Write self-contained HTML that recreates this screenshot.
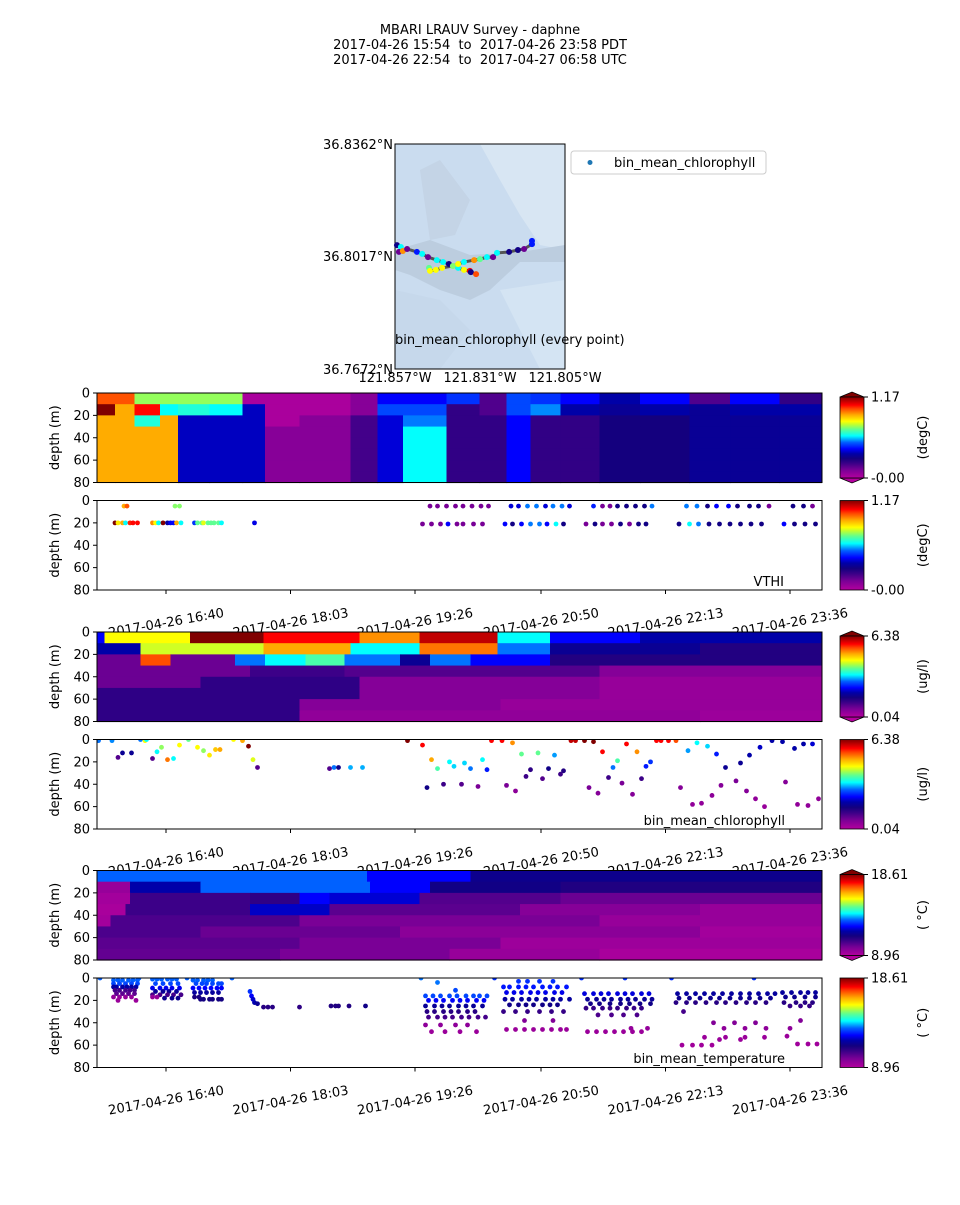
<!DOCTYPE html>
<html><head><meta charset="utf-8"><style>
html,body{margin:0;padding:0;background:#fff;}
svg text{font-family:"DejaVu Sans","Liberation Sans",sans-serif;}
.pre{white-space:pre;}
</style></head><body>
<svg id="fig" width="960" height="1200" viewBox="0 0 960 1200" xmlns="http://www.w3.org/2000/svg">
<rect x="0" y="0" width="960" height="1200" fill="#fff"/>
<g font-size="13" text-anchor="middle" fill="#000">
<text x="480" y="34" class="pre">MBARI LRAUV Survey - daphne</text>
<text x="480" y="49" class="pre">2017-04-26 15:54  to  2017-04-26 23:58 PDT</text>
<text x="480" y="64" class="pre">2017-04-26 22:54  to  2017-04-27 06:58 UTC</text>
</g>
<defs>
<clipPath id="mapclip"><rect x="395" y="144" width="170" height="225"/></clipPath>
</defs>
<g id="map">
<g clip-path="url(#mapclip)">
<rect x="395" y="144" width="170" height="225" fill="#cadcef"/>
<polygon points="480,144 565,144 565,250 540,245 520,215 500,180" fill="#d8e6f3"/>
<polygon points="500,290 565,280 565,369 540,369 520,330" fill="#d4e4f3"/>
<polygon points="395,250 430,240 470,255 520,252 565,245 565,262 520,262 490,290 470,300 440,290 410,275 395,270" fill="#bccddf"/>
<polygon points="420,170 440,160 470,200 455,235 430,240" fill="#bfcfe0" opacity="0.6"/>
<polygon points="395,290 440,300 470,330 440,369 395,369" fill="#c6d8eb"/>
</g>
<rect x="395" y="144" width="170" height="225" fill="none" stroke="#000" stroke-width="1"/>
<g id="mapTrack"></g>
<text x="395" y="344" font-size="13">bin_mean_chlorophyll (every point)</text>
<g font-size="13" text-anchor="end">
<text x="393" y="149">36.8362°N</text>
<text x="393" y="261">36.8017°N</text>
<text x="393" y="374">36.7672°N</text>
</g>
<g font-size="13" text-anchor="middle">
<text x="395" y="382">121.857°W</text>
<text x="480" y="382">121.831°W</text>
<text x="565" y="382">121.805°W</text>
</g>
<g>
<rect x="571" y="151" width="195" height="23" rx="3" fill="#fff" stroke="#ccc"/>
<circle cx="590" cy="162.5" r="2.5" fill="#1f77b4"/>
<text x="614" y="167" font-size="13">bin_mean_chlorophyll</text>
</g>
</g>
<g id="panels"></g>
</svg>
<script>
// ---------- data ----------
// time axis: minutes since 2017-04-26 15:54 PDT
var timeTickMinutes = [46, 129, 212, 296, 379, 462];
var timeTickLabels = ["2017-04-26 16:40","2017-04-26 18:03","2017-04-26 19:26","2017-04-26 20:50","2017-04-26 22:13","2017-04-26 23:36"];
var depthTicks = [0, 20, 40, 60, 80];

// map track (lon, lat, chlorophyll)
var mapLon = [-121.8564,-121.8552,-121.8558,-121.8546,-121.8533,-121.8503,-121.8487,-121.8469,-121.8442,-121.8423,-121.8405,-121.8377,-121.8359,-121.8341,-121.8338,-121.8322,
 -121.8466,-121.8463,-121.8445,-121.8426,-121.8393,-121.8377,-121.8359,-121.8328,-121.8310,-121.8289,-121.8270,-121.8258,-121.8221,-121.8194,-121.8175,-121.8151,-121.8151];
var mapLat = [36.8052,36.8046,36.8031,36.8034,36.8040,36.8031,36.8025,36.8015,36.8006,36.8000,36.7994,36.7982,36.7976,36.7973,36.7969,36.7963,
 36.7982,36.7973,36.7976,36.7982,36.7988,36.7994,36.8000,36.8006,36.8009,36.8015,36.8015,36.8028,36.8031,36.8037,36.8040,36.8055,36.8065];
var mapChl = [1.63,3.34,0.80,5.11,0.80,2.45,3.34,0.80,3.34,3.34,1.63,3.34,4.48,5.75,1.63,5.43,
 3.84,4.48,4.48,4.48,3.97,4.48,3.34,5.11,3.84,3.34,0.80,3.34,1.63,1.63,0.80,2.45,2.45];

// Panel 1: VTHI contour (degC) — column edges (minutes) and values per 10 m depth band
var vthiEdges = [0,12,25,42,54,75,97,112,135,169,187,204,233,255,273,289,309,335,362,395,422,455,483];
var vthiGrid = [
 [0.99,1.17,0.91,0.91,0.91,0.91,0.91,0.91],
 [0.99,0.91,0.91,0.91,0.91,0.91,0.91,0.91],
 [0.74,1.05,0.64,0.91,0.91,0.91,0.91,0.91],
 [0.74,0.61,0.91,0.91,0.91,0.91,0.91,0.91],
 [0.74,0.64,0.37,0.37,0.37,0.37,0.37,0.37],
 [0.74,0.61,0.37,0.37,0.37,0.37,0.37,0.37],
 [0.02,0.37,0.37,0.37,0.37,0.37,0.37,0.37],
 [0.02,0.02,0.02,0.09,0.09,0.09,0.09,0.09],
 [0.02,0.02,0.09,0.09,0.09,0.09,0.09,0.09],
 [0.09,0.09,0.20,0.20,0.20,0.20,0.20,0.20],
 [0.42,0.49,0.39,0.39,0.39,0.39,0.39,0.39],
 [0.42,0.49,0.53,0.61,0.61,0.61,0.61,0.61],
 [0.47,0.23,0.23,0.23,0.23,0.23,0.23,0.23],
 [0.18,0.18,0.23,0.23,0.23,0.23,0.23,0.23],
 [0.49,0.49,0.42,0.42,0.42,0.42,0.42,0.42],
 [0.47,0.54,0.23,0.23,0.23,0.23,0.23,0.23],
 [0.42,0.35,0.23,0.23,0.23,0.23,0.23,0.23],
 [0.35,0.32,0.28,0.28,0.28,0.28,0.28,0.28],
 [0.42,0.35,0.28,0.28,0.28,0.28,0.28,0.28],
 [0.18,0.32,0.32,0.32,0.32,0.32,0.32,0.32],
 [0.42,0.35,0.32,0.32,0.32,0.32,0.32,0.32],
 [0.23,0.35,0.32,0.32,0.32,0.32,0.32,0.32]];

// Panel 2: VTHI samples
var vthiTimes = [12,14,17,19,22,24,27,37,39,41,44,47,49,51,53,56,65,67,70,71,74,76,78,81,83,105,18,20,52,55,
 222,227,233,239,244,250,256,261,276,281,287,293,299,304,310,315,331,337,342,347,353,359,365,370,393,400,407,413,421,427,435,441,448,464,471,477,
 217,223,229,234,240,244,251,257,272,277,283,289,295,300,306,311,326,332,337,343,349,355,361,366,388,395,401,408,415,422,429,436,443,458,465,472,479];
var vthiDepths = [20,20,20,20,20,20,20,20,20,20,20,20,20,20,20,20,20,20,20,20,20,20,20,20,20,20,5,5,5,5,
 5,5,5,5,5,5,5,5,5,5,5,5,5,5,5,5,5,5,5,5,5,5,5,5,5,5,5,5,5,5,5,5,5,5,5,5,
 21,21,21,21,21,21,21,21,21,21,21,21,21,21,21,21,21,21,21,21,21,21,21,21,21,21,21,21,21,21,21,21,21,21,21,21,21];
var vthiValues = [1.17,0.84,0.91,0.61,1.03,1.05,1.05,0.94,0.82,0.61,1.17,0.33,0.41,0.42,0.91,0.61,0.47,0.70,0.70,0.80,0.70,0.70,0.70,0.70,0.61,0.40,0.91,0.99,0.73,0.73,
 0.12,0.12,0.12,0.12,0.12,0.12,0.12,0.12,0.39,0.39,0.53,0.53,0.39,0.53,0.53,0.39,0.45,0.12,0.12,0.29,0.29,0.29,0.29,0.53,0.53,0.53,0.29,0.42,0.42,0.29,0.29,0.29,0.12,0.29,0.29,0.12,
 0.12,0.12,0.12,0.42,0.12,0.12,0.12,0.12,0.42,0.29,0.42,0.53,0.53,0.42,0.61,0.29,0.12,0.29,0.12,0.12,0.29,0.12,0.29,0.29,0.29,0.61,0.53,0.29,0.29,0.29,0.29,0.29,0.29,0.42,0.29,0.29,0.29];

// Panel 3: chlorophyll contour (ug/l) — per depth band: [end minute, value] segments
var chlRows = [
 [[5,2.32],[62,4.48],[111,6.38],[175,5.75],[215,5.11],[267,6.06],[302,3.34],[362,2.32],[483,1.94]],
 [[29,1.94],[52,4.29],[111,4.29],[169,4.99],[215,3.34],[267,5.24],[302,2.89],[402,1.75],[483,1.43]],
 [[29,0.80],[49,5.43],[92,0.80],[112,2.89],[139,3.34],[165,3.72],[202,2.89],[222,1.75],[249,2.89],[302,2.32],[483,1.43]],
 [[102,0.80],[165,1.18],[335,0.99],[483,0.55]],
 [[69,0.80],[175,1.31],[335,0.55],[483,0.36]],
 [[175,1.31],[335,0.55],[483,0.36]],
 [[135,1.31],[269,0.55],[483,0.36]],
 [[135,1.31],[402,0.42],[483,0.30]]];

// Panel 4: chlorophyll samples
var chlTimes = [1,10,14,17,23,29,32,33,37,40,43,47,51,55,61,67,71,75,79,82,91,97,101,104,107,155,158,161,169,177,207,217,220,223,227,231,235,238,243,245,
 249,254,257,260,263,270,273,277,279,283,286,289,294,297,301,305,309,311,316,319,325,328,331,334,337,341,344,347,350,353,357,360,363,366,369,373,376,381,386,389,394,397,400,403,407,410,413,416,419,426,429,433,435,439,442,445,450,457,459,465,467,471,474,477,481];
var chlDepths = [1,1,16,12,12,0,1,0,17,11,7,18,17,5,0,7,10,14,9,9,0,1,6,18,25,26,25,25,25,25,1,5,43,18,26,40,20,24,40,21,
 26,42,18,27,1,1,41,3,46,13,33,27,12,35,26,14,31,28,1,1,1,43,2,48,11,34,25,19,39,4,49,11,35,24,20,1,1,1,1,43,10,58,3,57,6,50,13,41,25,37,21,46,14,53,7,60,1,2,38,8,58,4,59,4,53];
var chlValues = [2.89,2.96,0.99,1.75,1.75,2.89,4.48,3.34,0.99,3.34,4.03,5.24,3.34,4.48,3.84,4.48,4.03,4.60,4.80,4.99,4.48,4.99,6.38,4.35,0.99,0.99,2.89,1.63,3.08,3.08,6.38,5.75,1.63,4.99,3.72,1.18,3.34,3.21,0.99,3.21,
 2.89,0.67,3.34,2.45,5.75,5.75,0.67,5.11,0.48,3.84,1.18,1.31,3.84,0.99,1.63,3.02,1.18,1.43,6.06,6.06,6.38,0.67,6.38,0.55,5.75,1.18,2.89,3.72,0.67,5.75,0.55,5.11,1.18,2.45,2.58,5.75,5.75,5.75,5.43,0.55,3.02,0.42,3.34,0.42,3.21,0.48,2.45,0.55,1.75,0.67,1.75,0.55,1.94,0.42,2.07,0.36,1.94,1.94,0.55,1.94,0.42,1.94,0.42,2.13,0.42];

// Panel 5: temperature contour (°C) — per depth band: [end minute, value] segments
var tempRows = [
 [[180,13.21],[249,12.43],[483,11.47]],
 [[22,9.44],[69,11.86],[182,13.21],[222,12.43],[309,11.37],[483,11.10]],
 [[22,9.25],[102,10.70],[135,10.89],[155,12.43],[215,12.14],[309,10.41],[483,10.12]],
 [[19,9.15],[102,10.70],[155,12.05],[282,10.31],[402,9.73],[483,9.44]],
 [[9,9.25],[135,10.50],[335,9.93],[483,9.44]],
 [[69,10.50],[202,10.12],[402,9.64],[483,9.25]],
 [[135,10.31],[269,9.93],[483,9.35]],
 [[122,10.21],[235,9.93],[335,9.44],[483,9.15]]];

// Panel 6: temperature samples [minute, depth m, °C]
var tempObs = [
 [2,0,13.2],[28,0,13.2],[60,0,13.2],[90,0,13.2],[216,0,13.3],[265,0,12.8],[323,0,12.8],[352,0,12.8],[383,0,12.8],[438,0,12.8],
 [11,2,13.2],[14,2,13.2],[17,2,13.2],[21,2,13.2],[24,2,13.2],[27,2,13.2],
 [11,5,13.0],[15,5,13.0],[19,5,13.0],[23,5,13.0],[27,5,13.0],
 [11,8,11.8],[13,8,11.8],[17,8,11.8],[20,8,11.8],[23,8,11.8],[26,8,11.8],
 [12,11,10.6],[15,11,10.6],[19,11,10.6],[22,11,10.6],[25,11,10.6],
 [13,14,10.3],[17,14,10.3],[21,14,10.3],[25,14,10.3],
 [11,17,9.5],[15,17,9.5],[19,17,9.5],[23,17,9.5],[14,20,9.4],[26,20,9.4],
 [37,1,13.2],[40,1,13.2],[43,1,13.2],[47,1,13.2],[50,1,13.2],[53,1,13.2],
 [39,5,13.0],[44,5,13.0],[49,5,13.0],[54,5,13.0],
 [37,9,12.3],[42,9,12.3],[46,9,12.3],[50,9,12.3],[55,9,12.3],
 [39,12,11.6],[44,12,11.6],[48,12,11.6],[53,12,11.6],
 [37,15,10.6],[42,15,10.6],[47,15,10.6],[51,15,10.6],[56,15,10.6],
 [37,17,9.5],[40,17,9.5],[45,18,11.5],[50,18,11.5],[54,18,11.5],
 [64,2,13.2],[67,2,13.2],[71,2,13.2],[74,2,13.2],[77,2,13.2],
 [66,5,13.0],[70,5,13.0],[73,5,13.0],[77,5,13.0],[81,5,13.0],[83,5,13.0],
 [64,9,12.4],[68,9,12.4],[72,9,12.4],[76,9,12.4],[80,9,12.4],[83,9,12.4],
 [65,13,11.7],[69,13,11.7],[73,13,11.7],[77,13,11.7],[81,13,11.7],
 [65,17,11.2],[68,17,11.2],
 [69,19,11.3],[71,19,11.3],[75,19,11.3],[77,19,11.3],[81,19,11.3],[83,19,11.3],
 [102,12,12.8],[103,16,12.4],[104,19,12.1],[105,22,11.9],[107,23,11.6],
 [111,26,11.0],[114,26,11.0],[117,26,11.0],[135,26,10.9],[156,25,11.1],[159,25,11.1],[161,25,11.1],[168,25,11.1],[179,25,11.4],
 [219,16,13.0],[224,16,13.0],[229,16,13.0],[235,16,13.0],[240,16,13.0],[246,16,13.0],[251,16,13.0],[255,16,13.0],[260,16,13.0],
 [221,20,12.4],[226,20,12.4],[231,20,12.4],[237,20,12.4],[242,20,12.4],[247,20,12.4],[253,20,12.4],[258,20,12.4],
 [219,25,11.6],[225,25,11.6],[230,25,11.6],[235,25,11.6],[241,25,11.6],[246,25,11.6],[251,25,11.6],[257,25,11.6],
 [220,30,11.0],[225,30,11.0],[231,30,11.0],[236,30,11.0],[241,30,11.0],[247,30,11.0],[252,30,11.0],
 [221,35,10.6],[227,35,10.6],[232,35,10.6],[237,35,10.6],[243,35,10.6],[248,35,10.6],[254,35,10.6],[259,35,10.6],
 [219,42,9.6],[229,42,9.6],[239,42,9.6],[247,42,9.6],
 [223,48,9.4],[232,48,9.4],[242,48,9.4],[253,48,9.4],
 [227,4,13.3],[239,11,13.0],
 [271,8,12.6],[275,8,12.6],[281,8,12.6],[286,8,12.6],[291,8,12.6],[297,8,12.6],[302,8,12.6],[307,8,12.6],[313,8,12.6],
 [273,13,12.3],[278,13,12.3],[283,13,12.3],[289,13,12.3],[294,13,12.3],[299,13,12.3],[305,13,12.3],[310,13,12.3],
 [272,19,11.7],[277,19,11.7],[283,19,11.7],[288,19,11.7],[293,19,11.7],[299,19,11.7],[304,19,11.7],[309,19,11.7],[315,19,11.7],
 [275,24,11.4],[281,24,11.4],[286,24,11.4],[291,24,11.4],[297,24,11.4],[302,24,11.4],[307,24,11.4],
 [271,30,10.8],[279,30,10.8],[287,30,10.8],[295,30,10.8],[303,30,10.8],[311,30,10.8],
 [285,38,9.8],[304,38,9.8],
 [273,46,9.4],[279,46,9.4],[285,46,9.4],[291,46,9.4],[297,46,9.4],[303,46,9.4],[309,46,9.4],[313,46,9.4],
 [281,3,12.8],[287,3,12.8],[295,3,12.8],[304,3,12.8],
 [325,14,12.2],[331,14,12.2],[336,14,12.2],[341,14,12.2],[347,14,12.2],[352,14,12.2],[357,14,12.2],[363,14,12.2],[368,14,12.2],
 [327,19,11.6],[333,19,11.6],[338,19,11.6],[343,19,11.6],[349,19,11.6],[354,19,11.6],[359,19,11.6],[365,19,11.6],[370,19,11.6],
 [329,23,11.4],[335,23,11.4],[342,23,11.4],[349,23,11.4],[355,23,11.4],[362,23,11.4],[369,23,11.4],
 [326,27,10.8],[331,27,10.8],[337,27,10.8],[342,27,10.8],[347,27,10.8],[353,27,10.8],[358,27,10.8],[363,27,10.8],
 [334,33,10.5],[343,33,10.5],[351,33,10.5],[360,33,10.5],
 [327,48,9.4],[333,48,9.4],[339,48,9.4],[345,48,9.4],[351,48,9.4],[357,48,9.4],[363,48,9.4],
 [356,45,9.5],[367,45,9.5],
 [387,14,11.7],[393,14,11.7],[399,14,11.7],[405,14,11.7],[411,14,11.7],[417,14,11.7],[423,14,11.7],[429,14,11.7],[435,14,11.7],[441,14,11.7],[447,14,11.7],[452,14,11.7],
 [388,18,11.5],[395,18,11.5],[402,18,11.5],[409,18,11.5],[415,18,11.5],[422,18,11.5],[429,18,11.5],[435,18,11.5],[442,18,11.5],[449,18,11.5],
 [386,22,11.0],[393,22,11.0],[399,22,11.0],[406,22,11.0],[413,22,11.0],[419,22,11.0],[426,22,11.0],[433,22,11.0],[439,22,11.0],[446,22,11.0],
 [391,30,10.6],
 [411,40,9.8],[425,40,9.8],[439,40,9.8],
 [418,45,9.6],[432,45,9.6],[446,45,9.6],
 [405,53,9.4],[419,53,9.4],[432,53,9.4],[445,53,9.4],
 [390,60,9.3],[397,60,9.3],[403,60,9.3],[410,60,9.3],
 [415,55,9.4],[429,55,9.4],
 [457,13,11.7],[463,13,11.7],[469,13,11.7],[474,13,11.7],[479,13,11.7],
 [459,17,11.5],[465,17,11.5],[472,17,11.5],[479,17,11.5],
 [458,22,11.0],[466,22,11.0],[472,22,11.0],[477,22,11.0],
 [462,25,10.8],[469,25,10.8],[475,25,10.8],
 [469,38,9.8],[462,45,9.6],[460,52,9.4],[467,59,9.3],[474,59,9.3],[480,59,9.3]];

// ---------- scales ----------
var X0 = 97, X1 = 822, TMAX = 483.33;
function xOf(t){ return X0 + t * (X1 - X0) / TMAX; }
var cmapStops = [[0,"#b4009e"],[0.1,"#7a0096"],[0.18,"#3c0088"],[0.24,"#14007e"],[0.3,"#0000a8"],[0.36,"#0000ff"],[0.44,"#0060ff"],[0.52,"#00ffff"],[0.6,"#60ff90"],[0.66,"#c0ff30"],[0.7,"#ffff00"],[0.78,"#ffaa00"],[0.86,"#ff4000"],[0.9,"#ff0000"],[1,"#800000"]];
function hex2rgb(h){ return [parseInt(h.substr(1,2),16),parseInt(h.substr(3,2),16),parseInt(h.substr(5,2),16)]; }
function cmap(f){
  f = Math.max(0, Math.min(1, f));
  for (var i=1;i<cmapStops.length;i++){
    if (f <= cmapStops[i][0]){
      var a=cmapStops[i-1], b=cmapStops[i], u=(f-a[0])/(b[0]-a[0]);
      var ca=hex2rgb(a[1]), cb=hex2rgb(b[1]);
      return "rgb("+Math.round(ca[0]+(cb[0]-ca[0])*u)+","+Math.round(ca[1]+(cb[1]-ca[1])*u)+","+Math.round(ca[2]+(cb[2]-ca[2])*u)+")";
    }
  }
  return cmapStops[cmapStops.length-1][1];
}
var NS = "http://www.w3.org/2000/svg";
function mk(tag, attrs, parent){
  var e = document.createElementNS(NS, tag);
  for (var k in attrs) e.setAttribute(k, attrs[k]);
  if (parent) parent.appendChild(e);
  return e;
}
var root = document.getElementById("panels");

// ---------- map track ----------
(function(){
  var g = document.getElementById("mapTrack");
  function mx(lon){ return 395 + (lon + 121.857) / 0.052 * 170; }
  function my(lat){ return 144 + (36.8362 - lat) / 0.069 * 225; }
  var pts1 = [], pts2 = [];
  for (var i=0;i<16;i++) pts1.push(mx(mapLon[i])+","+my(mapLat[i]));
  for (var i=16;i<mapLon.length;i++) pts2.push(mx(mapLon[i])+","+my(mapLat[i]));
  var l1 = mk("polyline",{points:pts1.join(" "),fill:"none",stroke:"#555",'stroke-width':3},g);
  
  
  var l2 = mk("polyline",{points:pts2.join(" "),fill:"none",stroke:"#555",'stroke-width':3},g);
  
  
  for (var i=0;i<mapLon.length;i++){
    var c = mk("circle",{cx:mx(mapLon[i]),cy:my(mapLat[i]),r:3,fill:cmap((mapChl[i]-0.04)/6.34)},g);
    
    
  }
})();

// ---------- panel helpers ----------
function axesFrame(g, top, h, name){
  var yl = mk("text",{x:59,y:top+h/2,'font-size':13,'text-anchor':'middle',transform:'rotate(-90 59 '+(top+h/2)+')'},g);
  yl.textContent = "depth (m)";
  
  
  for (var i=0;i<depthTicks.length;i++){
    var y = top + depthTicks[i]*h/80;
    var tk = mk("line",{x1:X0-4,x2:X0,y1:y,y2:y,stroke:"#000",'stroke-width':1},g);
    
    
    var tl = mk("text",{x:X0-7,y:y+4.5,'font-size':13,'text-anchor':'end'},g);
    tl.textContent = depthTicks[i];
    
    
  }
  var fr = mk("rect",{x:X0,y:top,width:X1-X0,height:h,fill:"none",stroke:"#000",'stroke-width':1},g);
  
  
}
function colorbar(g, top, h, vmin, vmax, unit, extend, name, gid, minLabel){
  var defs = mk("defs",{},g);
  var lg = mk("linearGradient",{id:gid,x1:0,y1:1,x2:0,y2:0},defs);
  for (var i=0;i<cmapStops.length;i++) mk("stop",{offset:cmapStops[i][0],'stop-color':cmapStops[i][1]},lg);
  var bx=840, bw=24, y0=top, y1=top+h;
  if (extend){
    y0 = top+5; y1 = top+h-5;
    var tt = mk("polygon",{points:bx+","+y0+" "+(bx+bw/2)+","+top+" "+(bx+bw)+","+y0,fill:"#800000",stroke:"#000",'stroke-width':0.8},g);
    
    
    var tb = mk("polygon",{points:bx+","+y1+" "+(bx+bw/2)+","+(top+h)+" "+(bx+bw)+","+y1,fill:"#b4009e",stroke:"#000",'stroke-width':0.8},g);
    
    
  }
  var r = mk("rect",{x:bx,y:y0,width:bw,height:y1-y0,fill:"url(#"+gid+")",stroke:"#000",'stroke-width':0.8},g);
  
  
  var ticks = [[y0, String(vmax)],[y1, minLabel || String(vmin)]];
  for (var i=0;i<2;i++){
    var tk = mk("line",{x1:bx+bw,x2:bx+bw+4,y1:ticks[i][0],y2:ticks[i][0],stroke:"#000"},g);
    
    
    var tl = mk("text",{x:bx+bw+7,y:ticks[i][0]+4.5,'font-size':13},g);
    tl.textContent = ticks[i][1];
    
    
  }
  var cy = top + h/2;
  var ut = mk("text",{x:927,y:cy,'font-size':13,'text-anchor':'middle',transform:'rotate(-90 927 '+cy+')'},g);
  ut.textContent = unit;
  
  
}
function timeAxis(g, bottom, name){
  for (var i=0;i<timeTickMinutes.length;i++){
    var x = xOf(timeTickMinutes[i]);
    var tk = mk("line",{x1:x,x2:x,y1:bottom,y2:bottom+4,stroke:"#000"},g);
    
    
    var tl = mk("text",{x:x,y:bottom+37,'font-size':13,'text-anchor':'middle',transform:'rotate(-10 '+x+' '+(bottom+32)+')'},g);
    tl.textContent = timeTickLabels[i];
    
    
  }
}
function drawCols(g, top, h, edges, grid, vmin, vmax, name){
  var bh = h/8;
  for (var c=0;c<grid.length;c++){
    var xa = xOf(edges[c]), xb = xOf(edges[c+1]);
    for (var r=0;r<8;r++){
      var cell = mk("rect",{x:xa,y:top+r*bh,width:xb-xa+0.6,height:bh+0.6,fill:cmap((grid[c][r]-vmin)/(vmax-vmin))},g);
      
      
    }
  }
}
function drawRows(g, top, h, rows, vmin, vmax, name){
  var bh = h/8;
  for (var r=0;r<rows.length;r++){
    var start = 0;
    for (var s=0;s<rows[r].length;s++){
      var xa = xOf(start), xb = xOf(rows[r][s][0]);
      var cell = mk("rect",{x:xa,y:top+r*bh,width:xb-xa+0.6,height:bh+0.6,fill:cmap((rows[r][s][1]-vmin)/(vmax-vmin))},g);
      
      
      start = rows[r][s][0];
    }
  }
}
function drawPoints(g, top, h, times, depths, vals, vmin, vmax, name){
  for (var i=0;i<times.length;i++){
    var p = mk("circle",{cx:xOf(times[i]),cy:top+depths[i]*h/80,r:2.4,fill:cmap((vals[i]-vmin)/(vmax-vmin))},g);
    
    
  }
}
function panelLabel(g, x, y, txt, name){
  var t = mk("text",{x:x,y:y,'font-size':13,'text-anchor':'end'},g);
  t.textContent = txt;
  
  
}

var H = 89.5;
// Panel 1
var g1 = mk("g",{},root);


drawCols(g1, 393, H, vthiEdges, vthiGrid, 0, 1.17, 'vthi-contour');
axesFrame(g1, 393, H, 'vthi-contour');
colorbar(g1, 392, 91, 0, 1.17, "(degC)", true, 'vthi-contour', 'gr1', "-0.00");
// Panel 2
var g2 = mk("g",{},root);


var clip2 = mk("clipPath",{id:"c2"},g2); mk("rect",{x:X0,y:500.5,width:X1-X0,height:H},clip2);
var g2p = mk("g",{'clip-path':'url(#c2)'},g2);
drawPoints(g2p, 500.5, H, vthiTimes, vthiDepths, vthiValues, 0, 1.17, 'vthi');
axesFrame(g2, 500.5, H, 'vthi-scatter');
timeAxis(g2, 590, 'vthi-scatter');
panelLabel(g2, 784, 586, "VTHI", 'vthi');
colorbar(g2, 500.5, H, 0, 1.17, "(degC)", false, 'vthi-scatter', 'gr2', "-0.00");
// Panel 3
var g3 = mk("g",{},root);


drawRows(g3, 632, H, chlRows, 0.04, 6.38, 'chlorophyll-contour');
axesFrame(g3, 632, H, 'chlorophyll-contour');
colorbar(g3, 631, 91, 0.04, 6.38, "(ug/l)", true, 'chlorophyll-contour', 'gr3');
// Panel 4
var g4 = mk("g",{},root);


var clip4 = mk("clipPath",{id:"c4"},g4); mk("rect",{x:X0,y:739.5,width:X1-X0,height:H},clip4);
var g4p = mk("g",{'clip-path':'url(#c4)'},g4);
drawPoints(g4p, 739.5, H, chlTimes, chlDepths, chlValues, 0.04, 6.38, 'chlorophyll');
axesFrame(g4, 739.5, H, 'chlorophyll-scatter');
timeAxis(g4, 829, 'chlorophyll-scatter');
panelLabel(g4, 785, 825, "bin_mean_chlorophyll", 'chlorophyll');
colorbar(g4, 739.5, H, 0.04, 6.38, "(ug/l)", false, 'chlorophyll-scatter', 'gr4');
// Panel 5
var g5 = mk("g",{},root);


drawRows(g5, 870.5, H, tempRows, 8.96, 18.61, 'temperature-contour');
axesFrame(g5, 870.5, H, 'temperature-contour');
colorbar(g5, 869.5, 91, 8.96, 18.61, "( °C)", true, 'temperature-contour', 'gr5');
// Panel 6
var g6 = mk("g",{},root);


var clip6 = mk("clipPath",{id:"c6"},g6); mk("rect",{x:X0,y:978,width:X1-X0,height:H},clip6);
var g6p = mk("g",{'clip-path':'url(#c6)'},g6);
var tT=[],tD=[],tV=[];
for (var i=0;i<tempObs.length;i++){ tT.push(tempObs[i][0]); tD.push(tempObs[i][1]); tV.push(tempObs[i][2]); }
drawPoints(g6p, 978, H, tT, tD, tV, 8.96, 18.61, 'temperature');
axesFrame(g6, 978, H, 'temperature-scatter');
timeAxis(g6, 1067.5, 'temperature-scatter');
panelLabel(g6, 785, 1063, "bin_mean_temperature", 'temperature');
colorbar(g6, 978, H, 8.96, 18.61, "( °C)", false, 'temperature-scatter', 'gr6');
</script>
</body></html>
